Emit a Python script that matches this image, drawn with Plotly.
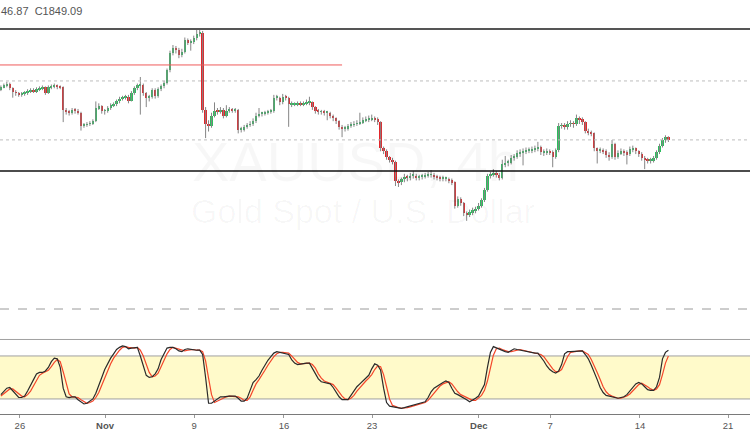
import plotly.graph_objects as go

# ---------------- DATA (XAUUSD 4h) ----------------
O = [1903,1905,1907,1909,1904,1900,1899,1897,1898,1899,
     1901,1902,1901,1903,1904,1905,1899,1905,1906,1907,
     1906,1905,1881,1879,1878,1881,1880,1878,1864,1865,
     1866,1867,1869,1883,1885,1880,1880,1883,1886,1887,
     1890,1893,1894,1895,1891,1899,1904,1907,1908,1899,
     1894,1895,1902,1896,1903,1906,1910,1923,1942,1947,
     1945,1939,1943,1955,1953,1953,1957,1962,1963,1881,
     1866,1864,1875,1880,1879,1881,1875,1880,1881,1880,
     1881,1860,1860,1863,1865,1866,1869,1875,1877,1877,
     1878,1879,1880,1894,1894,1889,1895,1894,1887,1887,
     1887,1888,1887,1888,1889,1889,1884,1880,1879,1879,
     1878,1878,1875,1872,1869,1863,1861,1861,1864,1865,
     1866,1867,1868,1870,1871,1871,1872,1871,1868,1840,
     1837,1831,1828,1826,1805,1804,1807,1810,1809,1811,
     1811,1809,1810,1810,1811,1812,1812,1810,1809,1808,
     1808,1808,1806,1804,1779,1786,1782,1771,1770,1772,
     1774,1776,1779,1785,1796,1811,1812,1814,1812,1809,
     1823,1825,1825,1830,1831,1835,1836,1837,1838,1838,
     1839,1840,1842,1836,1836,1837,1836,1831,1838,1864,
     1864,1863,1866,1867,1866,1872,1871,1868,1859,1857,
     1856,1840,1838,1838,1837,1833,1831,1845,1831,1835,
     1837,1836,1834,1839,1840,1837,1834,1830,1828,1827,
     1827,1830,1836,1843,1849,1852]
H = [1907,1909,1911,1910,1905,1902,1900,1900,1901,1903,
     1904,1904,1905,1906,1907,1906,1907,1908,1909,1908,
     1907,1906,1883,1881,1883,1883,1882,1879,1867,1868,
     1869,1871,1890,1888,1886,1882,1885,1888,1889,1892,
     1895,1896,1897,1897,1901,1906,1909,1916,1909,1900,
     1897,1904,1904,1905,1908,1912,1925,1944,1950,1949,
     1947,1946,1958,1957,1956,1960,1966,1966,1965,1884,
     1870,1878,1889,1883,1884,1883,1886,1884,1883,1883,
     1882,1863,1865,1867,1869,1872,1878,1883,1879,1880,
     1881,1882,1897,1897,1895,1898,1897,1895,1890,1889,
     1890,1890,1890,1892,1895,1890,1885,1882,1881,1881,
     1880,1879,1876,1873,1870,1865,1864,1866,1868,1869,
     1870,1878,1873,1874,1875,1876,1874,1873,1869,1842,
     1839,1832,1830,1827,1807,1809,1813,1812,1814,1816,
     1813,1812,1813,1814,1815,1817,1814,1812,1811,1811,
     1810,1809,1808,1805,1789,1788,1783,1773,1775,1777,
     1778,1782,1787,1798,1813,1815,1818,1816,1814,1828,
     1832,1828,1833,1834,1838,1839,1840,1841,1841,1842,
     1843,1847,1843,1839,1840,1839,1838,1840,1867,1867,
     1867,1869,1870,1869,1876,1874,1873,1869,1861,1859,
     1857,1841,1841,1840,1839,1836,1849,1846,1838,1840,
     1839,1838,1842,1843,1841,1838,1836,1832,1830,1830,
     1832,1838,1845,1851,1854,1853]
L = [1901,1904,1905,1902,1894,1896,1895,1895,1896,1897,
     1899,1899,1899,1901,1902,1897,1898,1903,1904,1903,
     1903,1868,1876,1875,1876,1877,1876,1859,1862,1863,
     1864,1865,1868,1881,1877,1876,1878,1881,1884,1885,
     1888,1891,1892,1888,1890,1897,1902,1876,1896,1884,
     1890,1893,1893,1894,1901,1904,1908,1921,1939,1941,
     1936,1937,1941,1950,1944,1951,1955,1959,1878,1851,
     1858,1862,1873,1876,1877,1872,1873,1878,1878,1878,
     1856,1857,1858,1861,1863,1864,1867,1873,1874,1875,
     1876,1877,1878,1891,1886,1887,1891,1863,1884,1885,
     1885,1885,1885,1886,1886,1881,1877,1876,1876,1875,
     1870,1872,1869,1866,1860,1852,1858,1859,1862,1863,
     1864,1865,1866,1868,1868,1869,1868,1865,1837,1834,
     1828,1825,1823,1800,1799,1801,1804,1805,1806,1808,
     1806,1806,1807,1808,1809,1809,1807,1806,1805,1805,
     1805,1803,1801,1776,1777,1779,1768,1763,1767,1769,
     1771,1774,1777,1783,1794,1808,1810,1809,1806,1807,
     1820,1821,1823,1827,1829,1831,1822,1834,1835,1835,
     1836,1837,1833,1832,1833,1833,1820,1829,1836,1861,
     1860,1860,1863,1862,1864,1866,1865,1856,1854,1853,
     1837,1824,1835,1834,1830,1827,1829,1828,1829,1833,
     1832,1823,1832,1836,1834,1831,1827,1818,1824,1824,
     1825,1828,1834,1841,1846,1846.87]
C = [1905,1907,1909,1904,1900,1899,1897,1898,1899,1901,
     1902,1901,1903,1904,1905,1899,1905,1906,1907,1906,
     1905,1881,1879,1878,1881,1880,1878,1864,1865,1866,
     1867,1869,1883,1885,1880,1880,1883,1886,1887,1890,
     1893,1894,1895,1891,1899,1904,1907,1908,1899,1894,
     1895,1902,1896,1903,1906,1910,1923,1942,1947,1945,
     1939,1943,1955,1953,1953,1957,1962,1963,1881,1866,
     1864,1875,1880,1879,1881,1875,1880,1881,1880,1881,
     1860,1860,1863,1865,1866,1869,1875,1877,1877,1878,
     1879,1880,1894,1894,1889,1895,1894,1887,1887,1887,
     1888,1887,1888,1889,1889,1884,1880,1879,1879,1878,
     1878,1875,1872,1869,1863,1861,1861,1864,1865,1866,
     1867,1868,1870,1871,1871,1872,1871,1868,1840,1837,
     1831,1828,1826,1805,1804,1807,1810,1809,1811,1811,
     1809,1810,1810,1811,1812,1812,1810,1809,1808,1808,
     1808,1806,1804,1779,1786,1782,1771,1770,1772,1774,
     1776,1779,1785,1796,1811,1812,1814,1812,1809,1823,
     1825,1825,1830,1831,1835,1836,1837,1838,1838,1839,
     1840,1842,1836,1836,1837,1836,1831,1838,1864,1864,
     1863,1866,1867,1866,1872,1871,1868,1859,1857,1856,
     1840,1838,1838,1837,1833,1831,1845,1831,1835,1837,
     1836,1834,1839,1840,1837,1834,1830,1828,1827,1827,
     1830,1836,1843,1849,1852,1849.09]

# Stochastic %K (black) and %D (red)
STOCH_K = [26,30,35,36,31,27,22,22,24,31,
           38,47,55,57,57,59,64,72,77,76,
           64,35,23,22,23,23,19,16,13,14,
           17,20,28,38,50,61,70,77,83,89,
           92,94,93,90,91,92,92,80,67,53,
           50,51,55,62,75,84,91,92,92,90,
           87,86,89,90,89,88,88,88,82,50,
           14,14,17,20,23,23,24,24,24,24,
           21,17,17,21,32,43,47,52,60,67,
           74,79,84,86,85,85,84,82,75,70,
           68,69,70,70,70,63,55,48,44,43,
           42,41,36,29,23,19,19,19,25,31,
           37,41,45,48,53,62,69,67,60,35,
           15,10,9,8,7,7,8,9,10,11,
           12,13,15,16,22,30,35,38,41,43,
           45,43,35,28,26,24,22,19,16,18,
           21,24,31,40,64,85,93,91,89,87,
           86,85,87,90,89,88,87,86,85,85,
           84,84,79,73,66,61,58,56,59,68,
           83,86,86,86,87,87,87,82,76,67,
           58,47,36,29,25,24,22,21,21,22,
           23,26,31,36,41,43,41,37,33,32,
           32,37,50,76,85,88]
STOCH_D = [24,27,30,34,34,31,27,24,23,26,
           31,39,47,53,56,58,60,65,71,75,
           72,58,41,27,23,23,22,19,16,14,
           15,17,22,29,39,50,60,69,77,83,
           88,92,93,92,91,91,92,88,80,67,
           57,51,52,56,64,74,83,89,92,91,
           90,88,87,88,89,89,88,88,86,73,
           49,26,15,17,20,22,23,24,24,24,
           23,21,18,18,23,32,41,47,53,60,
           67,73,79,83,85,85,85,84,80,76,
           71,69,69,70,70,68,63,55,49,45,
           43,42,40,35,29,24,20,19,21,25,
           31,36,41,45,49,54,61,66,65,54,
           37,20,11,9,8,7,7,8,9,10,
           11,12,13,15,18,23,29,34,38,41,
           43,44,41,35,30,26,24,22,19,18,
           18,21,25,32,45,63,81,90,91,89,
           87,86,86,87,89,89,88,87,86,85,
           85,84,82,79,73,67,62,58,58,61,
           70,79,85,86,86,87,87,85,82,75,
           67,57,47,37,30,26,24,22,21,21,
           22,24,27,31,36,40,42,40,37,34,
           32,34,40,54,70,80]

# Horizontal price levels drawn on the chart
LEVEL_TOP = 1967.1          # dark solid line
LEVEL_RED = 1928.8          # red line (left part only)
LEVEL_RED_END = 115         # bar index where red line stops
LEVEL_DOT = 1911.8          # dotted grey
LEVEL_SUPPORT = 1816.0      # black solid line
STOCH_BAND = [20, 80]
STOCH_UPPER = 103
STOCH_DASH = 145.5

# Time axis labels (bar index of each label)
TICK_TEXT = ["26", "<b>Nov</b>", "9", "16", "23", "<b>Dec</b>", "7", "14", "21"]
TICK_BARS = [6.4, 35.1, 65.1, 95.4, 125.1, 161.1, 185.1, 215.4, 245.1]

LEGEND_TEXT = "46.87  C1849.09"
WM_1 = "XAUUSD, 4h"
WM_2 = "Gold Spot / U.S. Dollar"

# ---------------- FIGURE ----------------
n = len(C)
idx = list(range(n))
fig = go.Figure()

wx, wy = [], []
for k in idx:
    wx += [k, k, None]
    wy += [L[k], H[k], None]
fig.add_trace(go.Scatter(x=wx, y=wy, mode="lines", line=dict(color="#858585", width=1),
                         hoverinfo="skip", xaxis="x", yaxis="y"))

up = [k for k in idx if C[k] >= O[k]]
dn = [k for k in idx if C[k] < O[k]]
fig.add_trace(go.Bar(x=up, y=[max(C[k] - O[k], 0.8) for k in up], base=[O[k] for k in up],
                     width=0.78, marker=dict(color="#2dbd5e", line=dict(width=0)),
                     xaxis="x", yaxis="y"))
fig.add_trace(go.Bar(x=dn, y=[max(O[k] - C[k], 0.8) for k in dn], base=[C[k] for k in dn],
                     width=0.78, marker=dict(color="#e3262b", line=dict(width=0)),
                     xaxis="x", yaxis="y"))

fig.add_trace(go.Scatter(x=idx, y=STOCH_D, mode="lines", line=dict(color="#f4462a", width=1.2),
                         xaxis="x", yaxis="y2"))
fig.add_trace(go.Scatter(x=idx, y=STOCH_K, mode="lines", line=dict(color="#2a2a2a", width=1.2),
                         xaxis="x", yaxis="y2"))

shapes = [
    dict(type="rect", xref="paper", x0=0, x1=1, yref="y2", y0=STOCH_BAND[0], y1=STOCH_BAND[1],
         fillcolor="rgba(255,238,80,0.30)", line=dict(width=0), layer="below"),
    dict(type="line", xref="paper", x0=0, x1=1, yref="y", y0=LEVEL_TOP, y1=LEVEL_TOP,
         line=dict(color="#555555", width=2)),
    dict(type="line", xref="x", x0=-1, x1=LEVEL_RED_END, yref="y", y0=LEVEL_RED, y1=LEVEL_RED,
         line=dict(color="#ef5a5a", width=1)),
    dict(type="line", xref="paper", x0=0, x1=1, yref="y", y0=LEVEL_DOT, y1=LEVEL_DOT,
         line=dict(color="#bdbdbd", width=1, dash="dot")),
    dict(type="line", xref="paper", x0=0, x1=1, yref="y", y0=C[-1], y1=C[-1],
         line=dict(color="#bdbdbd", width=1, dash="dot")),
    dict(type="line", xref="paper", x0=0, x1=1, yref="y", y0=LEVEL_SUPPORT, y1=LEVEL_SUPPORT,
         line=dict(color="#111111", width=1.6)),
    dict(type="line", xref="paper", x0=0, x1=1, yref="y2", y0=STOCH_DASH, y1=STOCH_DASH,
         line=dict(color="#9a9a9a", width=1, dash="dash")),
]
for lv in STOCH_BAND + [STOCH_UPPER]:
    shapes.append(dict(type="line", xref="paper", x0=0, x1=1, yref="y2", y0=lv, y1=lv,
                       line=dict(color="#a0a0a0", width=1), layer="below"))

annotations = [
    dict(text=WM_1, xref="paper", yref="paper", x=0.474, y=0.69, showarrow=False,
         font=dict(family="Liberation Sans, Arial", size=56, color="rgba(0,0,0,0.032)")),
    dict(text=WM_2, xref="paper", yref="paper", x=0.484, y=0.49, showarrow=False,
         font=dict(family="Liberation Sans, Arial", size=34, color="rgba(0,0,0,0.032)")),
    dict(text=LEGEND_TEXT, xref="paper", yref="paper", x=-0.002, y=1, xanchor="left",
         yanchor="top", yshift=-3, showarrow=False,
         font=dict(family="Liberation Sans, Arial", size=11, color="#555555")),
]

fig.update_layout(
    width=750, height=430,
    margin=dict(l=0, r=0, t=0, b=16, autoexpand=False),
    paper_bgcolor="white", plot_bgcolor="white",
    showlegend=False, barmode="overlay", bargap=0,
    shapes=shapes, annotations=annotations,
    xaxis=dict(range=[-0.3, 252.5], anchor="y2", tickvals=TICK_BARS, ticktext=TICK_TEXT,
               automargin=False,
               showgrid=False, zeroline=False, showline=True, linecolor="#7a7a7a", linewidth=1,
               ticks="outside", ticklen=3, tickcolor="#9a9a9a", ticklabelstandoff=0,
               tickfont=dict(family="Liberation Sans, Arial", size=9.5, color="#555555")),
    yaxis=dict(domain=[0.2754, 1], range=[1678.8, 1997.9], visible=False),
    yaxis2=dict(domain=[0, 0.2754], range=[-1, 158.1], visible=False),
)

fig.write_html("out.html", config={"displayModeBar": False},
               post_script="document.body.style.margin='0';")
